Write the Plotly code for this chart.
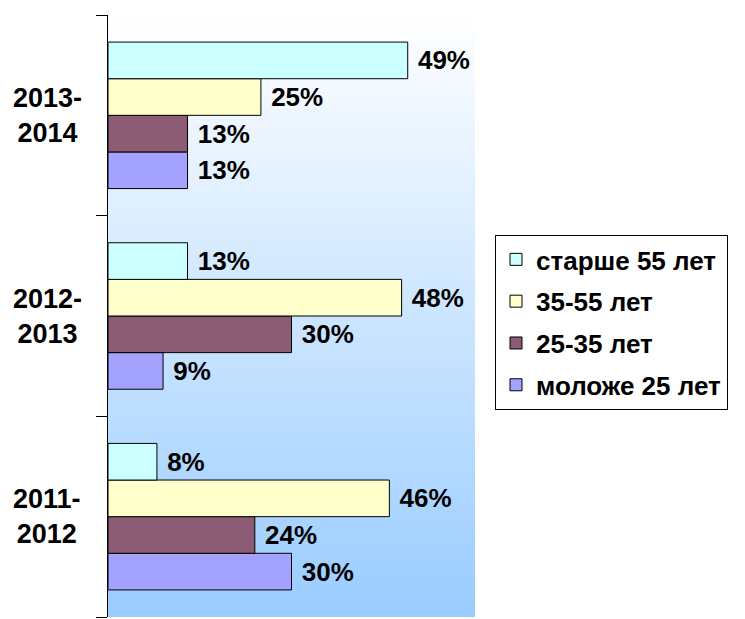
import plotly.graph_objects as go

categories = ["2011-2012", "2012-2013", "2013-2014"]
category_labels = ["2011-<br>2012", "2012-<br>2013", "2013-<br>2014"]
series_names = ["моложе 25 лет", "25-35 лет", "35-55 лет", "старше 55 лет"]
vals_under25 = [30, 9, 13]
vals_25_35 = [24, 30, 13]
vals_35_55 = [46, 48, 25]
vals_over55 = [8, 13, 49]
series_values = [vals_under25, vals_25_35, vals_35_55, vals_over55]
series_colors = ["#A3A3FF", "#8C5C74", "#FFFFCC", "#CCFFFF"]

FONT = "Liberation Sans, Arial, sans-serif"

fig = go.Figure()
n = len(series_names)
for i, (name, vals, col) in enumerate(zip(series_names, series_values, series_colors)):
    fig.add_trace(go.Bar(
        y=categories, x=vals, name=name, orientation="h",
        marker=dict(color=col, line=dict(color="black", width=1)),
        texttemplate=" %{x}%", textposition="outside",
        textfont=dict(family=FONT, size=26, color="black", weight="bold"),
        cliponaxis=False, legendgroup=f"g{i}", legendrank=n - i,
    ))

# vertical gradient background of the plot area (white -> light blue)
N = 120
top = (255, 255, 255)
bot = (153, 204, 255)
for k in range(N):
    t = (k + 0.5) / N
    c = tuple(round(top[j] + (bot[j] - top[j]) * t) for j in range(3))
    fig.add_shape(type="rect", xref="x domain", yref="y domain",
                  x0=0, x1=1, y0=1 - (k + 1) / N, y1=1 - k / N + 0.002,
                  fillcolor=f"rgb{c}", line=dict(width=0), layer="below")

for cat, lab in zip(categories, category_labels):
    fig.add_annotation(x=-0.166, xref="paper", y=cat, yref="y", text=lab,
                       showarrow=False, xanchor="center", yanchor="middle",
                       align="center",
                       font=dict(family=FONT, size=27, color="black", weight="bold"))

fig.update_layout(
    width=745, height=619,
    margin=dict(l=108, r=270, t=15, b=2),
    barmode="group", bargap=0.27, bargroupgap=0,
    paper_bgcolor="white", plot_bgcolor="white",
    showlegend=True,
    legend=dict(x=1.0545, xanchor="left", y=0.6346, yanchor="top",
                traceorder="grouped", tracegroupgap=5,
                bordercolor="black", borderwidth=1, bgcolor="white",
                font=dict(family=FONT, size=26, color="black", weight="bold")),
    xaxis=dict(range=[0, 60], showgrid=False, zeroline=False, showline=False,
               showticklabels=False, ticks=""),
    yaxis=dict(type="category", range=[-0.5, 2.5], showgrid=False, zeroline=False,
               showline=True, linecolor="black", linewidth=1,
               ticks="outside", tickson="boundaries", ticklen=11,
               tickcolor="black", showticklabels=False),
)

fig.write_html("out.html", config={"displayModeBar": False},
               post_script="document.body.style.margin='0';document.body.style.overflow='hidden';")
